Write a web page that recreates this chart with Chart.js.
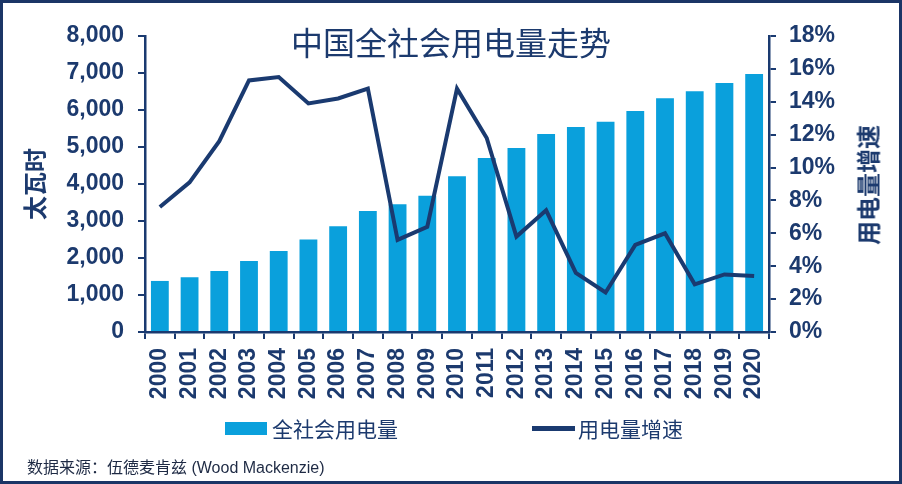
<!DOCTYPE html>
<html>
<head>
<meta charset="utf-8">
<script src="https://cdn.jsdelivr.net/npm/chart.js@4"></script>
<style>
  body { margin: 0; background: #fff; }
  #wrap { position: relative; width: 902px; height: 484px; overflow: hidden; }
  #frame { position: absolute; left: 0; top: 0; width: 902px; height: 484px; box-sizing: border-box;
           border: 3px solid #1b3566; pointer-events: none; }
  canvas { position: absolute; left: 0; top: 0; }
  .cjk { font-family: "Noto Sans CJK SC", sans-serif; color: #1c3a6e; position: absolute; white-space: nowrap; }
  #title { left: 0; width: 902px; text-align: center; top: 17px; font-size: 32px; line-height: 48px; }
  #rtitle { left: 867px; top: 185px; font-size: 24px; font-weight: bold; transform: translate(-50%, -50%) rotate(-90deg); }
  .sw { position: absolute; }
  .leg { font-size: 21px; line-height: 28px; top: 414px; }
  #source { left: 27px; top: 456px; font-size: 16px; line-height: 24px; color: #1e2a44;
            font-family: "Liberation Sans", "Noto Sans CJK SC", sans-serif; }
</style>
</head>
<body>
<div id="wrap">
  <canvas id="powerChart" width="902" height="484"></canvas>
  <div id="title" class="cjk">中国全社会用电量走势</div>
  <div id="rtitle" class="cjk">用电量增速</div>
  <div class="sw" style="left:225px; top:422px; width:42px; height:13px; background:#0aa0dc;"></div>
  <div class="cjk leg" style="left:272px;">全社会用电量</div>
  <div class="sw" style="left:532px; top:426px; width:43px; height:5px; background:#1a3a70;"></div>
  <div class="cjk leg" style="left:578px;">用电量增速</div>
  <div id="source" class="cjk">数据来源：伍德麦肯兹 (Wood Mackenzie)</div>
  <div id="frame"></div>
</div>
<script>
const years = ['2000', '2001', '2002', '2003', '2004', '2005', '2006', '2007', '2008', '2009', '2010',
               '2011', '2012', '2013', '2014', '2015', '2016', '2017', '2018', '2019', '2020'];
// 全社会用电量 (太瓦时)
const consumption = [1380, 1480, 1650, 1920, 2190, 2500, 2860, 3270, 3450, 3680, 4210,
                     4700, 4970, 5350, 5540, 5680, 5970, 6320, 6510, 6730, 6970];
// 用电量增速 (%)
const growth = [7.6, 9.1, 11.6, 15.3, 15.5, 13.9, 14.2, 14.8, 5.6, 6.4, 14.8,
                11.8, 5.8, 7.4, 3.6, 2.4, 5.3, 6.0, 2.9, 3.5, 3.4];

const navy = '#1a3a70';
const tickFont = { family: '"Liberation Sans", Arial, sans-serif', size: 23, weight: 'bold' };

const ctx = document.getElementById('powerChart').getContext('2d');

new Chart(ctx, {
    data: {
        labels: years,
        datasets: [{
            type: 'line',
            label: '用电量增速',
            data: growth,
            yAxisID: 'y1',
            borderColor: navy,
            borderWidth: 4,
            pointRadius: 0,
            tension: 0,
            fill: false,
            order: 0
        }, {
            type: 'bar',
            label: '全社会用电量',
            data: consumption,
            yAxisID: 'y',
            backgroundColor: '#0aa0dc',
            barPercentage: 0.6,
            categoryPercentage: 1.0,
            order: 1
        }]
    },
    options: {
        responsive: false,
        animation: false,
        layout: { padding: { top: 36, left: 0, right: 0, bottom: 0 } },
        plugins: {
            legend: { display: false },
            tooltip: { enabled: false }
        },
        scales: {
            x: {
                offset: true,
                afterFit: scale => { scale.height = 152; },
                grid: { display: true, offset: true, drawOnChartArea: false, drawTicks: true,
                        tickLength: 7, color: navy, lineWidth: 2 },
                border: { display: true, color: navy, width: 2.5 },
                ticks: { autoSkip: false, minRotation: 90, maxRotation: 90, padding: 9,
                         color: '#1c3a6e', font: tickFont }
            },
            y: {
                position: 'left',
                min: 0,
                max: 8000,
                afterFit: scale => { scale.width = 145; },
                grid: { display: true, drawOnChartArea: false, drawTicks: true,
                        tickLength: 7, color: navy, lineWidth: 2 },
                border: { display: true, color: navy, width: 2.5 },
                ticks: { stepSize: 1000, padding: 14, color: '#1c3a6e', font: tickFont,
                         callback: v => v.toLocaleString('en-US') },
                title: { display: true, text: '太瓦时', color: '#1c3a6e',
                         font: { family: 'Noto Sans CJK SC', size: 24, weight: 'bold' },
                         padding: { top: 20, bottom: 0 } }
            },
            y1: {
                position: 'right',
                min: 0,
                max: 18,
                afterFit: scale => { scale.width = 133; },
                grid: { display: true, drawOnChartArea: false, drawTicks: true,
                        tickLength: 7, color: navy, lineWidth: 2 },
                border: { display: true, color: navy, width: 2.5 },
                ticks: { stepSize: 2, padding: 13, color: '#1c3a6e', font: tickFont,
                         callback: v => v + '%' }
            }
        }
    }
});
</script>
</body>
</html>
